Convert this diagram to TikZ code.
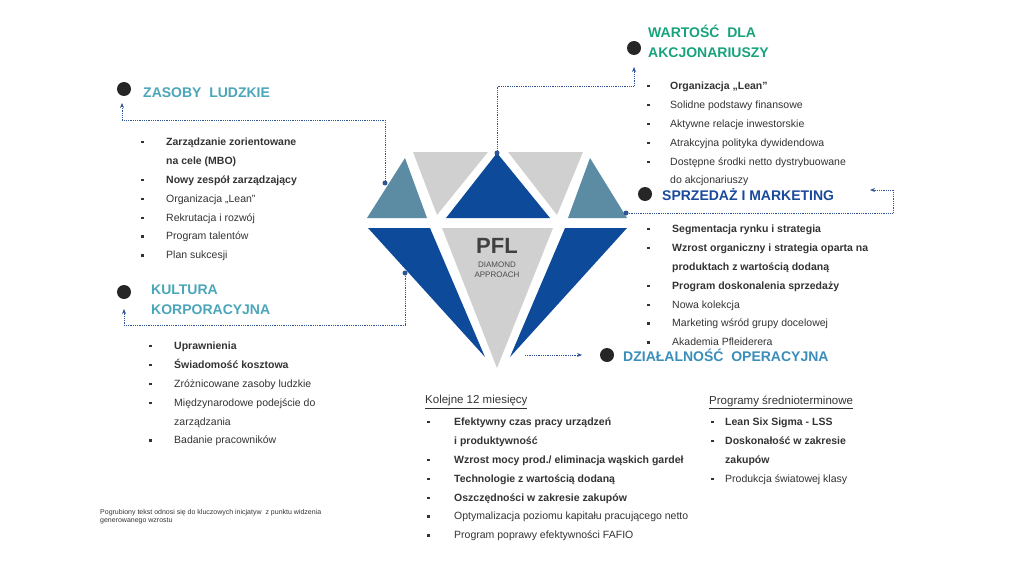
\documentclass[tikz,border=0pt]{standalone}
\usepackage{fontspec}
\setmainfont{Liberation Sans}
\usepackage{array}
\usetikzlibrary{positioning,arrows.meta}
\definecolor{teal1}{HTML}{4AA6B8}
\definecolor{green1}{HTML}{17A37B}
\definecolor{navy1}{HTML}{1A4A9C}
\definecolor{sky1}{HTML}{3A8EBA}
\definecolor{dteal}{HTML}{5B8CA3}
\definecolor{dblue}{HTML}{0D4A9A}
\definecolor{dgray}{HTML}{D0D0D0}
\definecolor{txt}{HTML}{333333}
\definecolor{link}{HTML}{2F5597}
\newcommand{\sq}{\rule[2pt]{2.5pt}{2.5pt}}
\begin{document}
\begin{tikzpicture}[x=1pt,y=-1pt,
        head/.style = {anchor=west, font=\bfseries\fontsize{14}{20}\selectfont, inner sep=0pt, align=left},
        blob/.style = {circle, fill=black!85, minimum size=14pt, inner sep=0pt},
        pin/.style = {circle, fill=link, minimum size=5pt, inner sep=0pt},
        list/.style = {anchor=north west, inner sep=0pt, text=txt, font=\fontsize{10.5}{12.6}\selectfont},
        wire/.style = {link, densely dotted, line width=0.8pt},
        tip/.style = {-{Stealth[length=5pt,width=4pt]}}
        ]
\useasboundingbox (0,0) rectangle (1024,578);
\renewcommand{\arraystretch}{1.5}
%
% diamond
\fill[dteal] (405,158) -- (367,218) -- (427,218) -- cycle;
\fill[dgray] (413,152) -- (488,152) -- (437,215) -- cycle;
\fill[dblue] (497,153) -- (446,218) -- (550,218) -- cycle;
\fill[dgray] (508,152) -- (583,152) -- (557,215) -- cycle;
\fill[dteal] (590,158) -- (568,218) -- (627,218) -- cycle;
\fill[dblue] (368,228) -- (430,228) -- (485,357) -- cycle;
\fill[dgray] (442,228) -- (553,228) -- (497,368) -- cycle;
\fill[dblue] (565,228) -- (627,228) -- (510,357) -- cycle;
\node[font=\bfseries\fontsize{22}{24}\selectfont, text=black!75] (pfl) at (497,246) {PFL};
\node[font=\fontsize{8}{10}\selectfont, text=black!70, align=center, below=1pt of pfl] (da) {DIAMOND\\APPROACH};
%
% headings
\node[blob] (b1) at (124,89) {};
\node[head, text=teal1] (h1) at (143,93) {ZASOBY~ LUDZKIE};
\node[blob] (b2) at (124,292) {};
\node[head, text=teal1] (h2) at (151,300) {KULTURA\\KORPORACYJNA};
\node[blob] (b3) at (634,48) {};
\node[head, text=green1] (h3) at (648,41) {WARTOŚĆ~ DLA\\AKCJONARIUSZY};
\node[blob] (b4) at (645,194) {};
\node[head, text=navy1] (h4) at (662,195) {SPRZEDAŻ I MARKETING};
\node[blob] (b5) at (607,355) {};
\node[head, text=sky1] (h5) at (623,355) {DZIAŁALNOŚĆ~ OPERACYJNA};
%
% connectors
\node[pin] (p1) at (385,183) {};
\node[pin] (p2) at (405,273) {};
\node[pin] (p3) at (497,153) {};
\node[pin] (p4) at (626,213) {};
\coordinate (e1) at (122,103);
\coordinate (e2) at (124,309);
\coordinate (e3) at (634,67);
\coordinate (e4) at (870,190);
\coordinate (s5) at (525,355);
\coordinate (e5) at (582,355);
\draw[wire, tip] (p1) |- (385,120) -| (e1);
\draw[wire, tip] (p2) |- (405,325) -| (e2);
\draw[wire, tip] (p3) |- (634,86) -- (e3);
\draw[wire, tip] (p4) -| (893,190) -- (e4);
\draw[wire, tip] (s5) -- (e5);
%
% lists
\node[list] (l1) at (141,132) {\begin{tabular}{@{}p{25pt}@{}l@{}}
\sq & \textbf{Zarządzanie zorientowane}\\
 & \textbf{na cele (MBO)}\\
\sq & \textbf{Nowy zespół zarządzający}\\
\sq & Organizacja „Lean”\\
\sq & Rekrutacja i rozwój\\
\sq & Program talentów\\
\sq & Plan sukcesji
\end{tabular}};
\node[list] (l2) at (149,336) {\begin{tabular}{@{}p{25pt}@{}l@{}}
\sq & \textbf{Uprawnienia}\\
\sq & \textbf{Świadomość kosztowa}\\
\sq & Zróżnicowane zasoby ludzkie\\
\sq & Międzynarodowe podejście do\\
 & zarządzania\\
\sq & Badanie pracowników
\end{tabular}};
\node[list] (l3) at (647,76) {\begin{tabular}{@{}p{23pt}@{}l@{}}
\sq & \textbf{Organizacja „Lean”}\\
\sq & Solidne podstawy finansowe\\
\sq & Aktywne relacje inwestorskie\\
\sq & Atrakcyjna polityka dywidendowa\\
\sq & Dostępne środki netto dystrybuowane\\
 & do akcjonariuszy
\end{tabular}};
\node[list] (l4) at (647,219) {\begin{tabular}{@{}p{25pt}@{}l@{}}
\sq & \textbf{Segmentacja rynku i strategia}\\
\sq & \textbf{Wzrost organiczny i strategia oparta na}\\
 & \textbf{produktach z wartością dodaną}\\
\sq & \textbf{Program doskonalenia sprzedaży}\\
\sq & Nowa kolekcja\\
\sq & Marketing wśród grupy docelowej\\
\sq & Akademia Pfleiderera
\end{tabular}};
\node[anchor=west, inner sep=0pt, text=txt, font=\fontsize{11.5}{14}\selectfont] (k0) at (425,402) {\underline{Kolejne 12 miesięcy}};
\node[list] (l5) at (427,412) {\begin{tabular}{@{}p{27pt}@{}l@{}}
\sq & \textbf{Efektywny czas pracy urządzeń}\\
 & \textbf{i produktywność}\\
\sq & \textbf{Wzrost mocy prod./ eliminacja wąskich gardeł}\\
\sq & \textbf{Technologie z wartością dodaną}\\
\sq & \textbf{Oszczędności w zakresie zakupów}\\
\sq & Optymalizacja poziomu kapitału pracującego netto\\
\sq & Program poprawy efektywności FAFIO
\end{tabular}};
\node[anchor=west, inner sep=0pt, text=txt, font=\fontsize{11.5}{14}\selectfont] (m0) at (709,402) {\underline{Programy średnioterminowe}};
\node[list] (l6) at (711,412) {\begin{tabular}{@{}p{14pt}@{}l@{}}
\sq & \textbf{Lean Six Sigma - LSS}\\
\sq & \textbf{Doskonałość w zakresie}\\
 & \textbf{zakupów}\\
\sq & Produkcja światowej klasy
\end{tabular}};
\node[anchor=north west, inner sep=0pt, align=left, text=txt, font=\fontsize{7}{8}\selectfont] (fn) at (100,509) {Pogrubiony tekst odnosi się do kluczowych inicjatyw~ z punktu widzenia\\generowanego wzrostu};
\end{tikzpicture}
\end{document}
